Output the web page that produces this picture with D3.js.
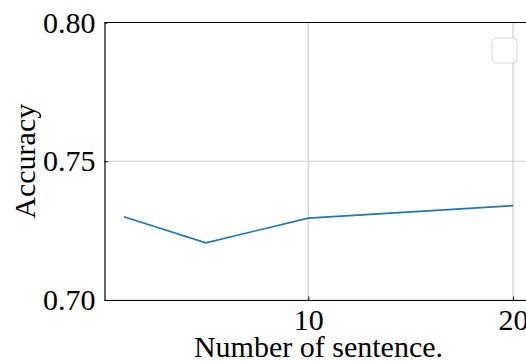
<!DOCTYPE html>
<html>
<head>
<meta charset="utf-8">
<script src="https://d3js.org/d3.v7.min.js"></script>
<style>
  body { margin: 0; background: #fff; }
  svg { display: block; font-family: "Liberation Serif", "DejaVu Serif", serif; }
</style>
</head>
<body>
<div id="chart"></div>
<script>
let sentences = [1, 5, 10, 20];
let accuracy = [0.7300, 0.7206, 0.7295, 0.7340];
let xTicks = [10, 20];
let yTicks = [0.70, 0.75, 0.80];

let svgWidth = 526, svgHeight = 361;
let margin = {top: 22.5, left: 104.5, bottom: 61, right: -6.5};
let width = svgWidth - margin.left - margin.right,
    height = svgHeight - margin.top - margin.bottom;

let svg = d3.select("#chart").append("svg")
    .attr("width", svgWidth)
    .attr("height", svgHeight);

let g = svg.append("g")
    .attr("transform", "translate(" + margin.left + "," + margin.top + ")");

let x = d3.scaleLinear().domain([0.05, 20.95]).range([0, width]);
let y = d3.scaleLinear().domain([0.70, 0.80]).range([height, 0]);

// grid
g.selectAll(".gx").data(xTicks).enter().append("line")
    .attr("x1", d => x(d)).attr("x2", d => x(d))
    .attr("y1", 0).attr("y2", height)
    .attr("stroke", "#cccccc").attr("stroke-width", 1.2);
g.selectAll(".gy").data(yTicks).enter().append("line")
    .attr("x1", 0).attr("x2", width)
    .attr("y1", d => y(d)).attr("y2", d => y(d))
    .attr("stroke", "#cccccc").attr("stroke-width", 1.2);

// line
let line = d3.line().x((d, i) => x(sentences[i])).y(d => y(d));
g.append("path")
    .datum(accuracy)
    .attr("d", line)
    .attr("fill", "none")
    .attr("stroke", "#1f77b4")
    .attr("stroke-width", 1.6);

// axes
let xAxis = g.append("g")
    .attr("transform", "translate(0," + height + ")")
    .call(d3.axisBottom(x).tickValues(xTicks).tickFormat(d3.format("d"))
        .tickSizeInner(-3.5).tickSizeOuter(0).tickPadding(9));
let yAxis = g.append("g")
    .call(d3.axisLeft(y).tickValues(yTicks).tickFormat(d3.format(".2f"))
        .tickSizeInner(-3.5).tickSizeOuter(0).tickPadding(9));

[xAxis, yAxis].forEach(a => {
    a.selectAll("text").attr("font-family", "Liberation Serif").attr("font-size", "30px").attr("fill", "#000");
    a.selectAll(".tick line").attr("stroke", "#000").attr("stroke-width", 1);
    a.select(".domain").attr("stroke", "#000").attr("stroke-width", 1.2);
});

// top spine
g.append("line")
    .attr("x1", 0).attr("x2", width).attr("y1", 0).attr("y2", 0)
    .attr("stroke", "#000").attr("stroke-width", 1.2);

// empty legend
g.append("rect")
    .attr("x", 492 - margin.left).attr("y", 38 - margin.top)
    .attr("width", 25).attr("height", 25)
    .attr("rx", 4)
    .attr("fill", "#fff").attr("fill-opacity", 0.8)
    .attr("stroke", "#d6d6d6").attr("stroke-width", 1);

// labels
svg.append("text")
    .attr("x", margin.left + width / 2)
    .attr("y", 357)
    .attr("text-anchor", "middle")
    .attr("font-size", "30px")
    .text("Number of sentence.");

svg.append("text")
    .attr("transform", "translate(34.5," + (margin.top + height / 2) + ") rotate(-90)")
    .attr("text-anchor", "middle")
    .attr("font-size", "30px")
    .text("Accuracy");
</script>
</body>
</html>
